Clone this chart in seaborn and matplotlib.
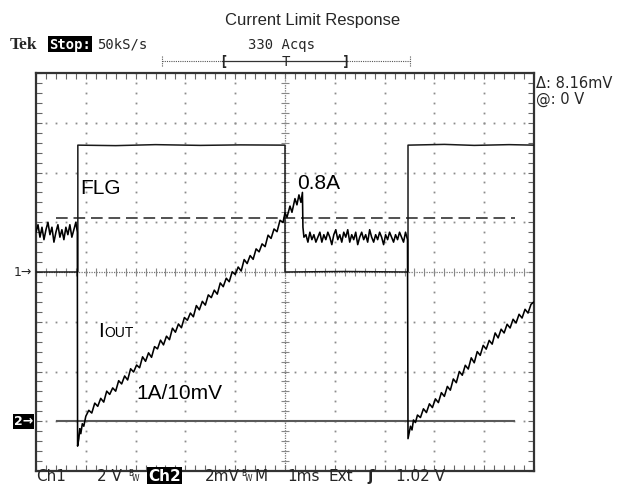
import matplotlib
matplotlib.use("Agg")
import numpy as np
import pandas as pd
import matplotlib.pyplot as plt
from matplotlib.lines import Line2D
import seaborn as sns

# ---------------- data ----------------
# Ch1: FLG output voltage (V) vs time (ms)
flg_t = [0.00, 0.84, 0.84, 1.6, 2.4, 3.3, 4.1, 5.00, 5.00, 6.2, 7.47, 7.47, 8.2, 8.8, 9.5, 10.00]
flg_v = [0.00, 0.00, 5.10, 5.08, 5.12, 5.09, 5.11, 5.10, 0.00, 0.02, 0.00, 5.10, 5.13, 5.09, 5.12, 5.10]

# Ch2: output current (A) vs time (ms), four visible segments
iout_t_limit1 = [0.00, 0.04, 0.08, 0.12, 0.16, 0.20, 0.24, 0.28, 0.32, 0.36,
                 0.40, 0.44, 0.48, 0.52, 0.56, 0.60, 0.64, 0.68, 0.72, 0.76,
                 0.80, 0.83, 0.835]
iout_a_limit1 = [0.76, 0.79, 0.74, 0.78, 0.73, 0.77, 0.80, 0.75, 0.78, 0.72,
                 0.76, 0.79, 0.74, 0.77, 0.73, 0.78, 0.75, 0.79, 0.74, 0.77,
                 0.80, 0.76, -0.10]

iout_t_ramp1 = [0.86, 0.88, 0.90, 0.93, 0.96, 1.00, 1.06, 1.12, 1.18, 1.24,
                1.30, 1.36, 1.42, 1.48, 1.54, 1.60, 1.66, 1.72, 1.78, 1.84,
                1.90, 1.96, 2.02, 2.08, 2.14, 2.20, 2.26, 2.32, 2.38, 2.44,
                2.50, 2.56, 2.62, 2.68, 2.74, 2.80, 2.86, 2.92, 2.98, 3.04,
                3.10, 3.16, 3.22, 3.28, 3.34, 3.40, 3.46, 3.52, 3.58, 3.64,
                3.70, 3.76, 3.82, 3.88, 3.94, 4.00, 4.06, 4.12, 4.18, 4.24,
                4.30, 4.36, 4.42, 4.48, 4.54, 4.60, 4.66, 4.72, 4.78, 4.84,
                4.90, 4.96, 5.00, 5.04, 5.10, 5.14, 5.20, 5.24, 5.28, 5.32, 5.35]
iout_a_ramp1 = [-0.07, -0.03, -0.05, -0.01, -0.02, 0.02, 0.044, 0.033, 0.073, 0.060,
                0.092, 0.077, 0.121, 0.108, 0.134, 0.121, 0.163, 0.150, 0.182, 0.166,
                0.211, 0.198, 0.226, 0.215, 0.259, 0.241, 0.275, 0.257, 0.300, 0.291,
                0.326, 0.307, 0.342, 0.328, 0.374, 0.358, 0.391, 0.376, 0.417, 0.406,
                0.435, 0.420, 0.465, 0.448, 0.482, 0.467, 0.508, 0.497, 0.527, 0.511,
                0.556, 0.541, 0.575, 0.561, 0.601, 0.590, 0.620, 0.604, 0.650, 0.634,
                0.666, 0.651, 0.693, 0.681, 0.713, 0.702, 0.748, 0.735, 0.773, 0.762,
                0.808, 0.799, 0.838, 0.820, 0.865, 0.840, 0.895, 0.870, 0.910, 0.880, 0.920]

iout_t_limit2 = [5.36, 5.38, 5.42, 5.46, 5.50, 5.54, 5.58, 5.62, 5.66, 5.70,
                 5.74, 5.78, 5.82, 5.86, 5.90, 5.94, 5.98, 6.02, 6.06, 6.10,
                 6.14, 6.18, 6.22, 6.26, 6.30, 6.34, 6.38, 6.42, 6.46, 6.50,
                 6.54, 6.58, 6.62, 6.66, 6.70, 6.74, 6.78, 6.82, 6.86, 6.90,
                 6.94, 6.98, 7.02, 7.06, 7.10, 7.14, 7.18, 7.22, 7.26, 7.30,
                 7.34, 7.38, 7.42, 7.46, 7.47]
iout_a_limit2 = [0.78, 0.74, 0.75, 0.72, 0.76, 0.73, 0.75, 0.72, 0.74, 0.76,
                 0.72, 0.75, 0.73, 0.76, 0.74, 0.71, 0.75, 0.77, 0.73, 0.75,
                 0.72, 0.76, 0.74, 0.77, 0.72, 0.75, 0.73, 0.76, 0.71, 0.74,
                 0.76, 0.73, 0.75, 0.72, 0.77, 0.74, 0.72, 0.75, 0.73, 0.76,
                 0.74, 0.71, 0.75, 0.73, 0.76, 0.74, 0.72, 0.75, 0.73, 0.76,
                 0.74, 0.72, 0.76, 0.73, -0.07]

iout_t_ramp2 = [7.49, 7.52, 7.55, 7.58, 7.62, 7.66, 7.72, 7.78, 7.84, 7.90,
                7.96, 8.02, 8.08, 8.14, 8.20, 8.26, 8.32, 8.38, 8.44, 8.50,
                8.56, 8.62, 8.68, 8.74, 8.80, 8.86, 8.92, 8.98, 9.04, 9.10,
                9.16, 9.22, 9.28, 9.34, 9.40, 9.46, 9.52, 9.58, 9.64, 9.70,
                9.76, 9.82, 9.88, 9.94, 10.00]
iout_a_ramp2 = [-0.05, -0.02, -0.035, 0.005, -0.005, 0.025, 0.015, 0.05, 0.035, 0.07,
                0.055, 0.09, 0.075, 0.115, 0.10, 0.14, 0.125, 0.17, 0.155, 0.20,
                0.185, 0.225, 0.21, 0.255, 0.235, 0.28, 0.265, 0.305, 0.29, 0.325,
                0.31, 0.355, 0.335, 0.37, 0.355, 0.39, 0.375, 0.41, 0.395, 0.43,
                0.415, 0.45, 0.435, 0.47, 0.48]

# horizontal cursors on Ch2 (A) and their extent (ms)
cursor_levels_a = [0.0, 0.816]
cursor_span_ms = [0.40, 9.62]

# scope settings
time_per_div_ms = 1.0
ch1_volts_per_div = 2.0
ch2_mv_per_div = 2.0
mv_per_amp = 10.0
ch2_offset_div = -3.0

# ---------------- figure ----------------
sns.set_style("white")
plt.rcParams['font.family'] = ['DejaVu Sans']

W, H = 634, 485
fig = plt.figure(figsize=(W / 100, H / 100), dpi=100)
ax = fig.add_axes([36 / W, 1 - 472 / H, 498 / W, 398 / H])


def fx(px):
    return px / W


def fy(py):
    return 1 - py / H


def ch2_div(a):
    return np.asarray(a) * mv_per_amp / ch2_mv_per_div + ch2_offset_div


flg_df = pd.DataFrame({'x': np.asarray(flg_t) / time_per_div_ms,
                       'y': np.asarray(flg_v) / ch1_volts_per_div})
iout_t = iout_t_limit1 + iout_t_ramp1 + iout_t_limit2 + iout_t_ramp2
iout_a = iout_a_limit1 + iout_a_ramp1 + iout_a_limit2 + iout_a_ramp2
iout_df = pd.DataFrame({'x': np.asarray(iout_t) / time_per_div_ms,
                        'y': ch2_div(iout_a)})

# graticule
grid_col = '#8c8c8c'
minor_x = np.arange(0, 10.001, 0.2)
minor_y = np.arange(-4, 4.001, 0.2)
for xm in [1, 2, 3, 4, 6, 7, 8, 9]:
    ax.plot(np.full_like(minor_y, xm), minor_y, ls='none', marker='s', ms=1.3,
            mew=0, color=grid_col, zorder=1)
for ym in [-3, -2, -1, 1, 2, 3]:
    ax.plot(minor_x, np.full_like(minor_x, ym), ls='none', marker='s', ms=1.3,
            mew=0, color=grid_col, zorder=1)
ax.plot([0, 10], [0, 0], ls=(0, (1, 1)), lw=0.9, color='#777777', zorder=1)
ax.plot([5, 5], [-4, 4], ls=(0, (1, 1)), lw=0.9, color='#777777', zorder=1)
ax.plot(minor_x, np.zeros_like(minor_x), ls='none', marker='|', ms=6, mew=0.8,
        color='#888888', zorder=1)
ax.plot(np.full_like(minor_y, 5), minor_y, ls='none', marker='_', ms=6, mew=0.8,
        color='#888888', zorder=1)

# cursors
ax.hlines(ch2_div(cursor_levels_a[0]), cursor_span_ms[0], cursor_span_ms[1],
          color='#5a5a5a', lw=1.5, zorder=2)
ax.hlines(ch2_div(cursor_levels_a[1]), cursor_span_ms[0], cursor_span_ms[1],
          color='#333333', lw=1.2, linestyles=[(0, (7, 3.5))], zorder=2)

# traces
sns.lineplot(data=flg_df, x='x', y='y', sort=False, estimator=None,
             color='#1a1a1a', lw=1.1, ax=ax, zorder=3)
sns.lineplot(data=iout_df, x='x', y='y', sort=False, estimator=None,
             color='black', lw=1.15, ax=ax, zorder=4)

ax.set_xlim(0, 10)
ax.set_ylim(-4, 4)
ax.set_xlabel('')
ax.set_ylabel('')
ax.set_xticks(minor_x)
ax.set_yticks(minor_y)
ax.tick_params(axis='both', which='major', direction='in', length=4, width=0.8,
               color='#666666', top=True, right=True, bottom=True, left=True,
               labelbottom=False, labelleft=False)
for sp in ax.spines.values():
    sp.set_color('#333333')
    sp.set_linewidth(1.6)
    sp.set_visible(True)

# in-plot annotations
ann = dict(family='Liberation Sans', color='black', zorder=6)
ax.text(0.88, 1.59, 'FLG', fontsize=15, ha='left', va='baseline', **ann)
ax.text(5.24, 1.69, '0.8A', fontsize=15, ha='left', va='baseline', **ann)
ax.text(1.245, -1.286, 'I', fontsize=15, ha='left', va='baseline', **ann)
ax.text(1.38, -1.286, 'OUT', fontsize=10, ha='left', va='baseline', **ann)
ax.text(2.02, -2.53, '1A/10mV', fontsize=15, ha='left', va='baseline', **ann)

# title
fig.text(fx(313), fy(20), 'Current Limit Response', ha='center', va='center',
         fontsize=12, family='Liberation Sans')

# header
fig.text(fx(10), fy(45), 'Tek', ha='left', va='center', fontsize=12.5,
         family='Liberation Serif', weight='bold')
fig.text(fx(49), fy(45), 'Stop:', ha='left', va='center', fontsize=10,
         family='DejaVu Sans Mono', weight='bold', color='white',
         bbox=dict(boxstyle='square,pad=0.08', fc='black', ec='none'))
fig.text(fx(97), fy(45), '50kS/s', ha='left', va='center', fontsize=10,
         family='DejaVu Sans Mono')
fig.text(fx(248), fy(45), '330 Acqs', ha='left', va='center', fontsize=10,
         family='DejaVu Sans Mono')

# trigger-position bar
bar_y = fy(62)
fig.add_artist(Line2D([fx(162), fx(222)], [bar_y, bar_y], lw=0.8, color='#555555',
                      ls=(0, (1, 1))))
fig.add_artist(Line2D([fx(222), fx(347)], [bar_y, bar_y], lw=0.9, color='#333333'))
fig.add_artist(Line2D([fx(347), fx(410)], [bar_y, bar_y], lw=0.8, color='#555555',
                      ls=(0, (1, 1))))
for xe in (162, 410):
    fig.add_artist(Line2D([fx(xe), fx(xe)], [fy(57), fy(68)], lw=0.8,
                          color='#555555', ls=(0, (1, 1))))
fig.text(fx(223), bar_y, '[', ha='center', va='center', fontsize=10,
         family='DejaVu Sans Mono', weight='bold')
fig.text(fx(286), bar_y, 'T', ha='center', va='center', fontsize=10,
         family='DejaVu Sans Mono')
fig.text(fx(346), bar_y, ']', ha='center', va='center', fontsize=10,
         family='DejaVu Sans Mono', weight='bold')

# cursor readout
fig.text(fx(536), fy(84), '\u0394: 8.16mV', ha='left', va='center', fontsize=10.5)
fig.text(fx(536), fy(99), '@: 0 V', ha='left', va='center', fontsize=10.5)

# channel markers
fig.text(fx(14), fy(273), '1\u2192', ha='left', va='center', fontsize=9)
fig.text(fx(14), fy(422), '2\u2192', ha='left', va='center', fontsize=9,
         color='white', weight='bold',
         bbox=dict(boxstyle='square,pad=0.08', fc='black', ec='none'))

# bottom status line
bot = fy(477)
st = dict(ha='left', va='center', fontsize=11, family='DejaVu Sans')
fig.text(fx(36), bot, 'Ch1', **st)
fig.text(fx(97), bot, '2 V', **st)
fig.text(fx(128), fy(474), 'B', fontsize=5.5, ha='left', va='center')
fig.text(fx(132), fy(479), 'W', fontsize=5.5, ha='left', va='center')
fig.text(fx(148), bot, 'Ch2', color='white', weight='bold',
         bbox=dict(boxstyle='square,pad=0.08', fc='black', ec='none'), **st)
fig.text(fx(205), bot, '2mV', **st)
fig.text(fx(241), fy(474), 'B', fontsize=5.5, ha='left', va='center')
fig.text(fx(245), fy(479), 'W', fontsize=5.5, ha='left', va='center')
fig.text(fx(254), bot, 'M', **st)
fig.text(fx(287), bot, '1ms', **st)
fig.text(fx(328), bot, 'Ext', **st)
fig.text(fx(367), bot, '\u0283', weight='bold', **st)
fig.text(fx(396), bot, '1.02 V', **st)

fig.savefig('out.png', dpi=100)
